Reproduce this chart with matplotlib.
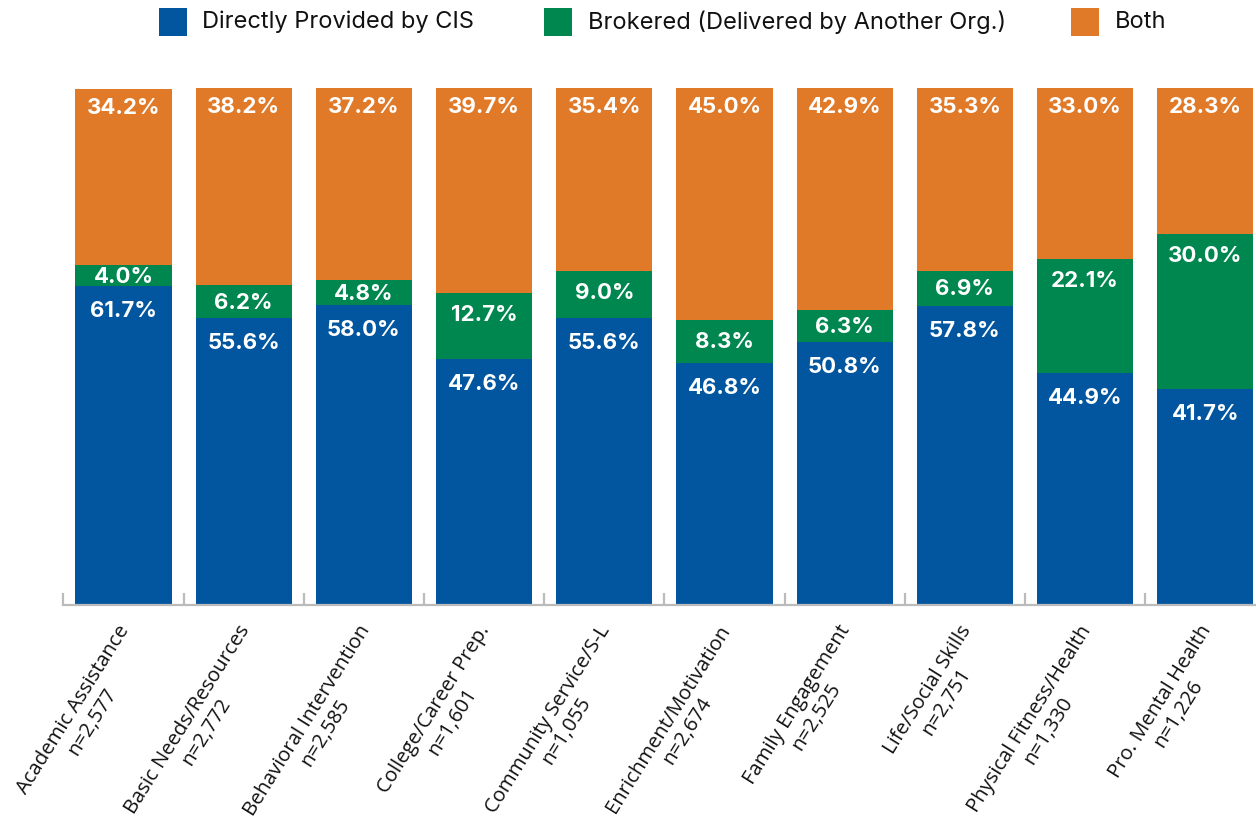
import matplotlib
matplotlib.use("Agg")
import matplotlib.pyplot as plt
from matplotlib.patches import Rectangle

categories = ["Academic Assistance", "Basic Needs/Resources", "Behavioral Intervention",
              "College/Career Prep.", "Community Service/S-L", "Enrichment/Motivation",
              "Family Engagement", "Life/Social Skills", "Physical Fitness/Health",
              "Pro. Mental Health"]
n_counts = ["2,577", "2,772", "2,585", "1,601", "1,055", "2,674", "2,525", "2,751", "1,330", "1,226"]
direct = [61.7, 55.6, 58.0, 47.6, 55.6, 46.8, 50.8, 57.8, 44.9, 41.7]
brokered = [4.0, 6.2, 4.8, 12.7, 9.0, 8.3, 6.3, 6.9, 22.1, 30.0]
both = [34.2, 38.2, 37.2, 39.7, 35.4, 45.0, 42.9, 35.3, 33.0, 28.3]
series_names = ["Directly Provided by CIS", "Brokered (Delivered by Another Org.)", "Both"]
colors = ["#02569F", "#00874F", "#E17A28"]

W, H = 1256, 831
fig = plt.figure(figsize=(W / 100, H / 100), dpi=100)
ax = fig.add_axes([63.4 / W, (H - 605) / H, 1202 / W, 517 / H])
x = list(range(len(categories)))
ax.set_xlim(-0.5, len(categories) - 0.5)
ax.set_ylim(0, 100)

bw = 0.8
bottoms2 = [d + b for d, b in zip(direct, brokered)]
ax.bar(x, direct, width=bw, color=colors[0], linewidth=0)
ax.bar(x, brokered, width=bw, bottom=direct, color=colors[1], linewidth=0)
ax.bar(x, both, width=bw, bottom=bottoms2, color=colors[2], linewidth=0)

px_per_unit = ax.get_window_extent().height / 100.0
lab_font = dict(family=["Inter", "DejaVu Sans"], fontsize=16, fontweight="bold",
                color="white", annotation_clip=False)

def px2pt(p):
    return p * 72 / 100

for i in x:
    top = direct[i]
    ax.annotate(f"{direct[i]:.1f}%", xy=(i, top), xytext=(0, -px2pt(25)),
                textcoords="offset points", ha="center", va="center", **lab_font)
    top = direct[i] + brokered[i]
    seg_px = brokered[i] * px_per_unit
    off = min(22, seg_px / 2 + 1)
    ax.annotate(f"{brokered[i]:.1f}%", xy=(i, top), xytext=(0, -px2pt(off)),
                textcoords="offset points", ha="center", va="center", **lab_font)
    top = min(100, direct[i] + brokered[i] + both[i])
    ax.annotate(f"{both[i]:.1f}%", xy=(i, top), xytext=(0, -px2pt(19)),
                textcoords="offset points", ha="center", va="center", **lab_font)

for s in ["top", "right", "left"]:
    ax.spines[s].set_visible(False)
ax.spines["bottom"].set_color("#BBBBBB")
ax.spines["bottom"].set_linewidth(1.6)
ax.set_yticks([])
ax.set_xticks([i - 0.5 for i in x] + [len(x) - 0.5])
ax.set_xticklabels([])
ax.tick_params(axis="x", direction="in", length=9, width=1.6, color="#BBBBBB")

for i in x:
    ax.annotate(f"{categories[i]}\nn={n_counts[i]}", xy=(i, 0), xycoords=("data", "axes fraction"),
                xytext=(px2pt(11), -px2pt(28)), textcoords="offset points",
                rotation=58, rotation_mode="anchor", ha="right", va="center",
                multialignment="center", fontsize=14.6, color="#111111",
                family=["Open Sans", "DejaVu Sans"], linespacing=1.12, annotation_clip=False)

# legend
leg_items = [(159, 202), (544, 588), (1071, 1115)]
for (sx, tx), name, c in zip(leg_items, series_names, colors):
    fig.patches.append(Rectangle((sx / W, (H - 36) / H), 28 / W, 28 / H,
                                 transform=fig.transFigure, color=c, linewidth=0))
    fig.text(tx / W, (H - 22) / H, name, ha="left", va="center", fontsize=17,
             family=["Inter", "DejaVu Sans"], color="#111111")

fig.savefig("out.png", dpi=100)
